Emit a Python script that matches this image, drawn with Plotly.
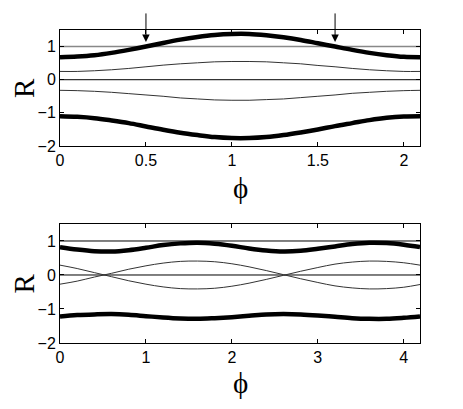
import plotly.graph_objects as go
from plotly.subplots import make_subplots

# upper panel: phi over one period (0 .. 2pi/3)
phi_top = [0, 0.1, 0.2, 0.3, 0.4, 0.5, 0.6, 0.7, 0.8, 0.9, 1.0,
           1.1, 1.2, 1.3, 1.4, 1.5, 1.6, 1.7, 1.8, 1.9, 2.0, 2.094]
top_thick_hi = [0.68, 0.70, 0.74, 0.81, 0.90, 1.00, 1.11, 1.21, 1.29, 1.35, 1.38,
                1.38, 1.34, 1.28, 1.20, 1.10, 1.00, 0.90, 0.81, 0.74, 0.69, 0.68]
top_thin_hi = [0.25, 0.25, 0.27, 0.30, 0.34, 0.39, 0.44, 0.48, 0.51, 0.54, 0.55,
               0.55, 0.54, 0.51, 0.48, 0.43, 0.39, 0.34, 0.30, 0.27, 0.25, 0.25]
top_thin_lo = [-0.32, -0.33, -0.35, -0.38, -0.42, -0.46, -0.50, -0.55, -0.58, -0.61, -0.62,
               -0.62, -0.60, -0.58, -0.54, -0.50, -0.46, -0.41, -0.38, -0.35, -0.33, -0.32]
top_thick_lo = [-1.10, -1.12, -1.16, -1.23, -1.31, -1.41, -1.51, -1.60, -1.67, -1.73, -1.76,
                -1.76, -1.73, -1.67, -1.59, -1.50, -1.40, -1.31, -1.22, -1.15, -1.11, -1.10]
arrow_phi = [0.5, 1.6]
arrow_r = [1.14, 1.14]

# lower panel: phi over two periods (0 .. 4pi/3)
phi_bot = [0, 0.2, 0.4, 0.6, 0.8, 1.0, 1.2, 1.4, 1.6, 1.8, 2.0,
           2.2, 2.4, 2.6, 2.8, 3.0, 3.2, 3.4, 3.6, 3.8, 4.0, 4.189]
bot_thick_hi = [0.82, 0.75, 0.70, 0.69, 0.73, 0.80, 0.88, 0.93, 0.95, 0.92, 0.86,
                0.78, 0.72, 0.69, 0.71, 0.77, 0.84, 0.91, 0.95, 0.94, 0.89, 0.82]
bot_thin_a = [0.29, 0.19, 0.07, -0.05, -0.17, -0.27, -0.35, -0.40, -0.41, -0.39, -0.33,
              -0.24, -0.13, -0.01, 0.11, 0.22, 0.32, 0.38, 0.41, 0.40, 0.36, 0.29]
bot_thin_b = [-0.27, -0.18, -0.06, 0.05, 0.17, 0.27, 0.35, 0.40, 0.41, 0.39, 0.33,
              0.24, 0.13, 0.01, -0.11, -0.22, -0.32, -0.38, -0.41, -0.40, -0.36, -0.28]
bot_thick_lo = [-1.22, -1.18, -1.16, -1.15, -1.17, -1.21, -1.25, -1.28, -1.29, -1.27, -1.24,
                -1.20, -1.16, -1.15, -1.16, -1.19, -1.23, -1.27, -1.29, -1.29, -1.26, -1.22]

fig = make_subplots(rows=2, cols=1, vertical_spacing=0.25)

thick = dict(color="black", width=4.5, shape="spline")
thin = dict(color="#333", width=1, shape="spline")
flat_top = dict(color="#888", width=1.6)
flat = dict(color="black", width=1)

# top panel
fig.add_trace(go.Scatter(x=[phi_top[0], phi_top[-1]], y=[1, 1], mode="lines", line=flat_top), 1, 1)
fig.add_trace(go.Scatter(x=[phi_top[0], phi_top[-1]], y=[0, 0], mode="lines", line=flat), 1, 1)
for ys, ln in [(top_thick_hi, thick), (top_thin_hi, thin), (top_thin_lo, thin), (top_thick_lo, thick)]:
    fig.add_trace(go.Scatter(x=phi_top, y=ys, mode="lines", line=ln), 1, 1)

# bottom panel
fig.add_trace(go.Scatter(x=[phi_bot[0], phi_bot[-1]], y=[1, 1], mode="lines", line=flat), 2, 1)
fig.add_trace(go.Scatter(x=[phi_bot[0], phi_bot[-1]], y=[0, 0], mode="lines", line=flat), 2, 1)
for ys, ln in [(bot_thick_hi, thick), (bot_thin_a, thin), (bot_thin_b, thin), (bot_thick_lo, thick)]:
    fig.add_trace(go.Scatter(x=phi_bot, y=ys, mode="lines", line=ln), 2, 1)

for px, pr in zip(arrow_phi, arrow_r):
    fig.add_annotation(x=px, y=pr, xref="x", yref="y", ax=0, ay=-30,
                       showarrow=True, arrowhead=2, arrowsize=1.5, arrowwidth=1,
                       arrowcolor="black", text="")

axis_style = dict(showline=True, linecolor="black", linewidth=1, mirror="ticks",
                  ticks="inside", ticklen=4, tickcolor="black", showgrid=False,
                  zeroline=False, tickfont=dict(family="Liberation Sans", size=16, color="black"))

fig.update_xaxes(range=[0, 2.094], tickvals=[0, 0.5, 1, 1.5, 2],
                 domain=[0, 1], row=1, col=1, **axis_style)
fig.update_xaxes(range=[0, 4.189], tickvals=[0, 1, 2, 3, 4], row=2, col=1, **axis_style)
fig.update_yaxes(range=[-2, 1.5], tickvals=[-2, -1, 0, 1], domain=[0.6294, 1.0],
                 row=1, col=1, **axis_style)
fig.update_yaxes(range=[-2, 1.5], tickvals=[-2, -1, 0, 1], domain=[0, 0.3802],
                 row=2, col=1, **axis_style)

label_font = dict(family="Liberation Serif", size=29, color="black")
for yc in [(1 + 0.6294) / 2, 0.3802 / 2]:
    fig.add_annotation(x=0, y=yc, xref="paper", yref="paper", text="R",
                       xanchor="center", yanchor="middle", xshift=-36,
                       textangle=-90, showarrow=False, font=label_font)
for yb, ys in [(0.6294, -42), (0.0, -40)]:
    fig.add_annotation(x=0.5, y=yb, xref="paper", yref="paper", yshift=ys,
                       xanchor="center", yanchor="middle",
                       text="ϕ", showarrow=False, font=label_font)

# page body adds an 8px margin, so the figure is drawn 8px smaller
fig.update_layout(width=455, height=401, showlegend=False,
                  margin=dict(l=52, r=43, t=22, b=66),
                  plot_bgcolor="white", paper_bgcolor="white")

fig.write_html("out.html")
